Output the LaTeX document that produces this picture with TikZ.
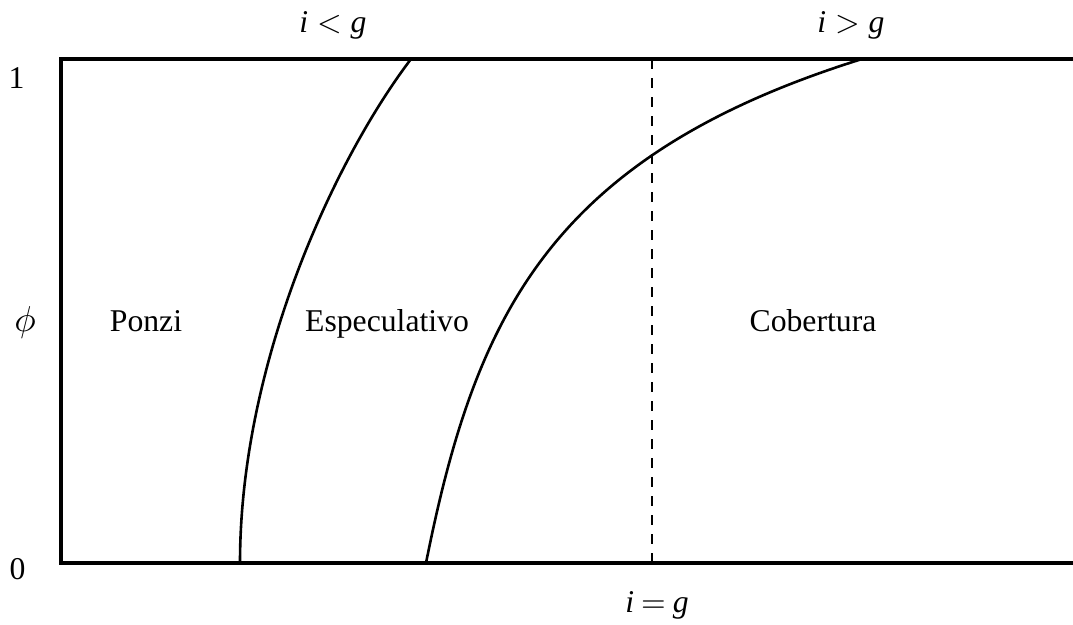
\documentclass[tikz,border=0pt]{standalone}
\usepackage{fontspec}
\setmainfont{Liberation Serif}
\newcommand{\scaledmath}[2]{\scalebox{#1}{\normalsize$#2$}}
\begin{document}
\begin{tikzpicture}[x=1pt,y=-1pt,
  frame/.style={line width=3.2pt},
  curve/.style={line width=2.6pt},
  guide/.style={line width=2.8pt, dash pattern=on 10pt off 9pt},
  lbl/.style={anchor=base, inner sep=0pt, font=\fontsize{31.7}{38}\selectfont},
  mlbl/.style={anchor=center, inner sep=0pt}]
\useasboundingbox (0,0) rectangle (1073,624);
% frame
\coordinate (tr) at (1073,59);
\coordinate (tl) at (61,59);
\coordinate (bl) at (61,563);
\coordinate (br) at (1073,563);
\draw[frame] (tr) -- (tl) -- (bl) -- (br);
% curves
\coordinate (c1b) at (240,563);
\coordinate (c1t) at (411,59);
\draw[curve] (c1b) .. controls (240,362) and (335,159) .. (c1t);
\coordinate (c2b) at (426,563);
\coordinate (c2t) at (862,59);
\draw[curve] (c2b) .. controls (475,318) and (548,157) .. (c2t);
% dashed line i = g
\coordinate (dt) at (652,59);
\coordinate (db) at (652,563);
\draw[guide] (dt) -- (db);
% labels
\node[lbl] (one) at (16.5,88) {1};
\node[lbl] (zero) at (17.5,579) {0};
\node[mlbl] (phi) at (25,322) {\scaledmath{3.6}{\phi}};
\node[lbl] (ponzi) at (146,331) {Ponzi};
\node[lbl] (esp) at (387,331) {Especulativo};
\node[lbl] (cob) at (813,331) {Cobertura};
\node[lbl] (ilg) at (333,32) {\textit{i}\hspace{0.28em}\scaledmath{3.17}{<}\hspace{0.28em}\textit{g}};
\node[lbl] (igg) at (851,32) {\textit{i}\hspace{0.28em}\scaledmath{3.17}{>}\hspace{0.28em}\textit{g}};
\node[lbl] (ieg) at (657,612) {\textit{i}\hspace{0.22em}\scaledmath{3.17}{=}\hspace{0.22em}\textit{g}};
\end{tikzpicture}
\end{document}
